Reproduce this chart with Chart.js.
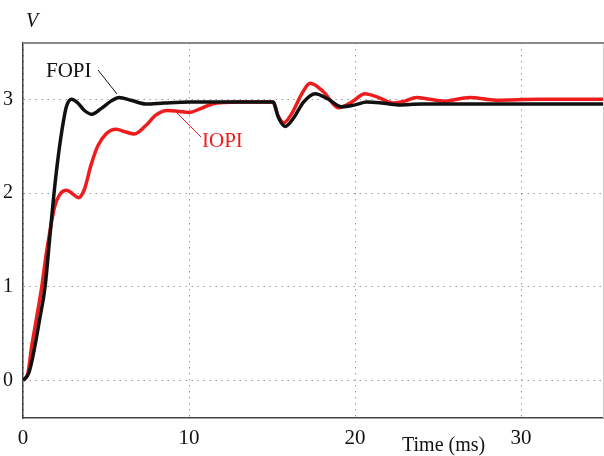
<!DOCTYPE html>
<html>
<head>
<meta charset="utf-8">
<script src="https://cdn.jsdelivr.net/npm/chart.js@4.4.0/dist/chart.umd.min.js"></script>
<style>
  html, body { margin: 0; padding: 0; background: #fff; }
  #wrap { width: 604px; height: 456px; }
</style>
</head>
<body>
<div id="wrap"><canvas id="chart" width="604" height="456"></canvas></div>
<script>
// time in ms, voltage in V
const fopiTime = [0, 0.35, 0.7, 1.0, 1.33, 1.6, 1.87, 2.13, 2.43, 2.63, 2.93, 3.3, 3.7, 4.15, 4.7, 5.3, 5.8, 6.5, 7.4, 8.5, 10, 12, 15.06,
    15.4, 15.8, 16.3, 16.9, 17.6, 18.4, 19.2, 20.0, 20.7, 21.6, 22.6, 24, 26, 30, 35];
const fopiVolt = [0, 0.08, 0.35, 0.65, 1.0, 1.5, 2.0, 2.4, 2.76, 2.93, 3.0, 2.96, 2.88, 2.84, 2.9, 2.98, 3.02, 2.99, 2.95, 2.96, 2.97, 2.97, 2.97,
    2.8, 2.71, 2.8, 2.97, 3.06, 3.0, 2.92, 2.94, 2.97, 2.96, 2.94, 2.95, 2.95, 2.95, 2.95];

const iopiTime = [0, 0.3, 0.52, 0.8, 1.13, 1.4, 1.63, 1.9, 2.2, 2.63, 3.0, 3.35, 3.7, 4.1, 4.5, 5.0, 5.6, 6.2, 6.7, 7.4, 8.0, 8.7, 9.4, 10.0, 10.7, 11.4, 13, 15.06,
    15.35, 15.7, 16.2, 16.8, 17.3, 18.1, 19.0, 19.8, 20.6, 21.4, 22.3, 23.0, 23.7, 24.5, 25.4, 26.9, 28.5, 31, 35];
const iopiVolt = [0, 0.08, 0.36, 0.65, 1.0, 1.35, 1.6, 1.85, 1.98, 2.03, 1.99, 1.95, 2.04, 2.3, 2.5, 2.63, 2.68, 2.65, 2.63, 2.72, 2.83, 2.88, 2.87, 2.86, 2.9, 2.95, 2.97, 2.97,
    2.83, 2.75, 2.85, 3.06, 3.17, 3.08, 2.91, 2.97, 3.06, 3.02, 2.96, 2.98, 3.02, 3.0, 2.98, 3.02, 2.99, 3.0, 3.0];

const xTickValues = [0, 10, 20, 30];
const yTickValues = [0, 1, 2, 3];

const serif = "'Liberation Serif', 'DejaVu Serif', serif";

function toPoints(xs, ys) {
    return xs.map((x, i) => ({ x, y: ys[i] }));
}

// labels, leader lines and the top/right frame lines
const annotations = {
    id: "annotations",
    afterDraw(chart) {
        const ctx = chart.ctx;
        const a = chart.chartArea;
        ctx.save();

        ctx.strokeStyle = "#d0d0d0";
        ctx.lineWidth = 1;
        ctx.beginPath();
        ctx.moveTo(a.right - 0.5, a.top);
        ctx.lineTo(a.right - 0.5, a.bottom);
        ctx.stroke();

        ctx.strokeStyle = "#8a8a8a";
        ctx.lineWidth = 2;
        ctx.beginPath();
        ctx.moveTo(a.left, a.top);
        ctx.lineTo(a.right, a.top);
        ctx.stroke();

        ctx.textBaseline = "alphabetic";
        ctx.textAlign = "left";

        ctx.fillStyle = "#111";
        ctx.font = "italic 20px " + serif;
        ctx.fillText("V", 26, 27);

        ctx.font = "21px " + serif;
        ctx.fillText("FOPI", 46, 77);
        ctx.strokeStyle = "#111";
        ctx.lineWidth = 1;
        ctx.beginPath();
        ctx.moveTo(98, 70);
        ctx.lineTo(117, 94);
        ctx.stroke();

        ctx.fillStyle = "#ee1c1c";
        ctx.fillText("IOPI", 202, 147);
        ctx.strokeStyle = "#ee1c1c";
        ctx.beginPath();
        ctx.moveTo(177, 113);
        ctx.lineTo(201, 137);
        ctx.stroke();

        ctx.fillStyle = "#111";
        ctx.font = "20px " + serif;
        ctx.fillText("Time (ms)", 402, 451);
        ctx.restore();
    }
};

new Chart(document.getElementById("chart"), {
    type: "line",
    data: {
        datasets: [{
            label: "FOPI",
            data: toPoints(fopiTime, fopiVolt),
            borderColor: "#111111",
            borderWidth: 3.5,
            pointRadius: 0,
            cubicInterpolationMode: "monotone",
            fill: false
        }, {
            label: "IOPI",
            data: toPoints(iopiTime, iopiVolt),
            borderColor: "#ee1c1c",
            borderWidth: 3.5,
            pointRadius: 0,
            cubicInterpolationMode: "monotone",
            fill: false
        }]
    },
    options: {
        responsive: false,
        animation: false,
        layout: { padding: { top: 43, right: 0, left: 0, bottom: 0 } },
        plugins: { legend: { display: false }, tooltip: { enabled: false } },
        scales: {
            x: {
                type: "linear",
                min: 0,
                max: 35,
                afterBuildTicks: s => { s.ticks = xTickValues.map(v => ({ value: v })); },
                afterFit: s => { s.height = 38; },
                ticks: {
                    color: "#111",
                    font: { family: serif, size: 21 },
                    padding: 8,
                    maxRotation: 0
                },
                grid: { color: "#9a9a9a", lineWidth: 1, drawTicks: false },
                border: { display: true, color: "#444", width: 1.5, dash: [1.5, 4.5] }
            },
            y: {
                min: -0.4,
                max: 3.6,
                afterBuildTicks: s => { s.ticks = yTickValues.map(v => ({ value: v })); },
                afterFit: s => { s.width = 23; },
                ticks: {
                    color: "#111",
                    font: { family: serif, size: 20 },
                    padding: 10
                },
                grid: { color: "#9a9a9a", lineWidth: 1, drawTicks: false },
                border: { display: true, color: "#444", width: 1.5, dash: [1.5, 4.5] }
            }
        }
    },
    plugins: [annotations]
});
</script>
</body>
</html>
